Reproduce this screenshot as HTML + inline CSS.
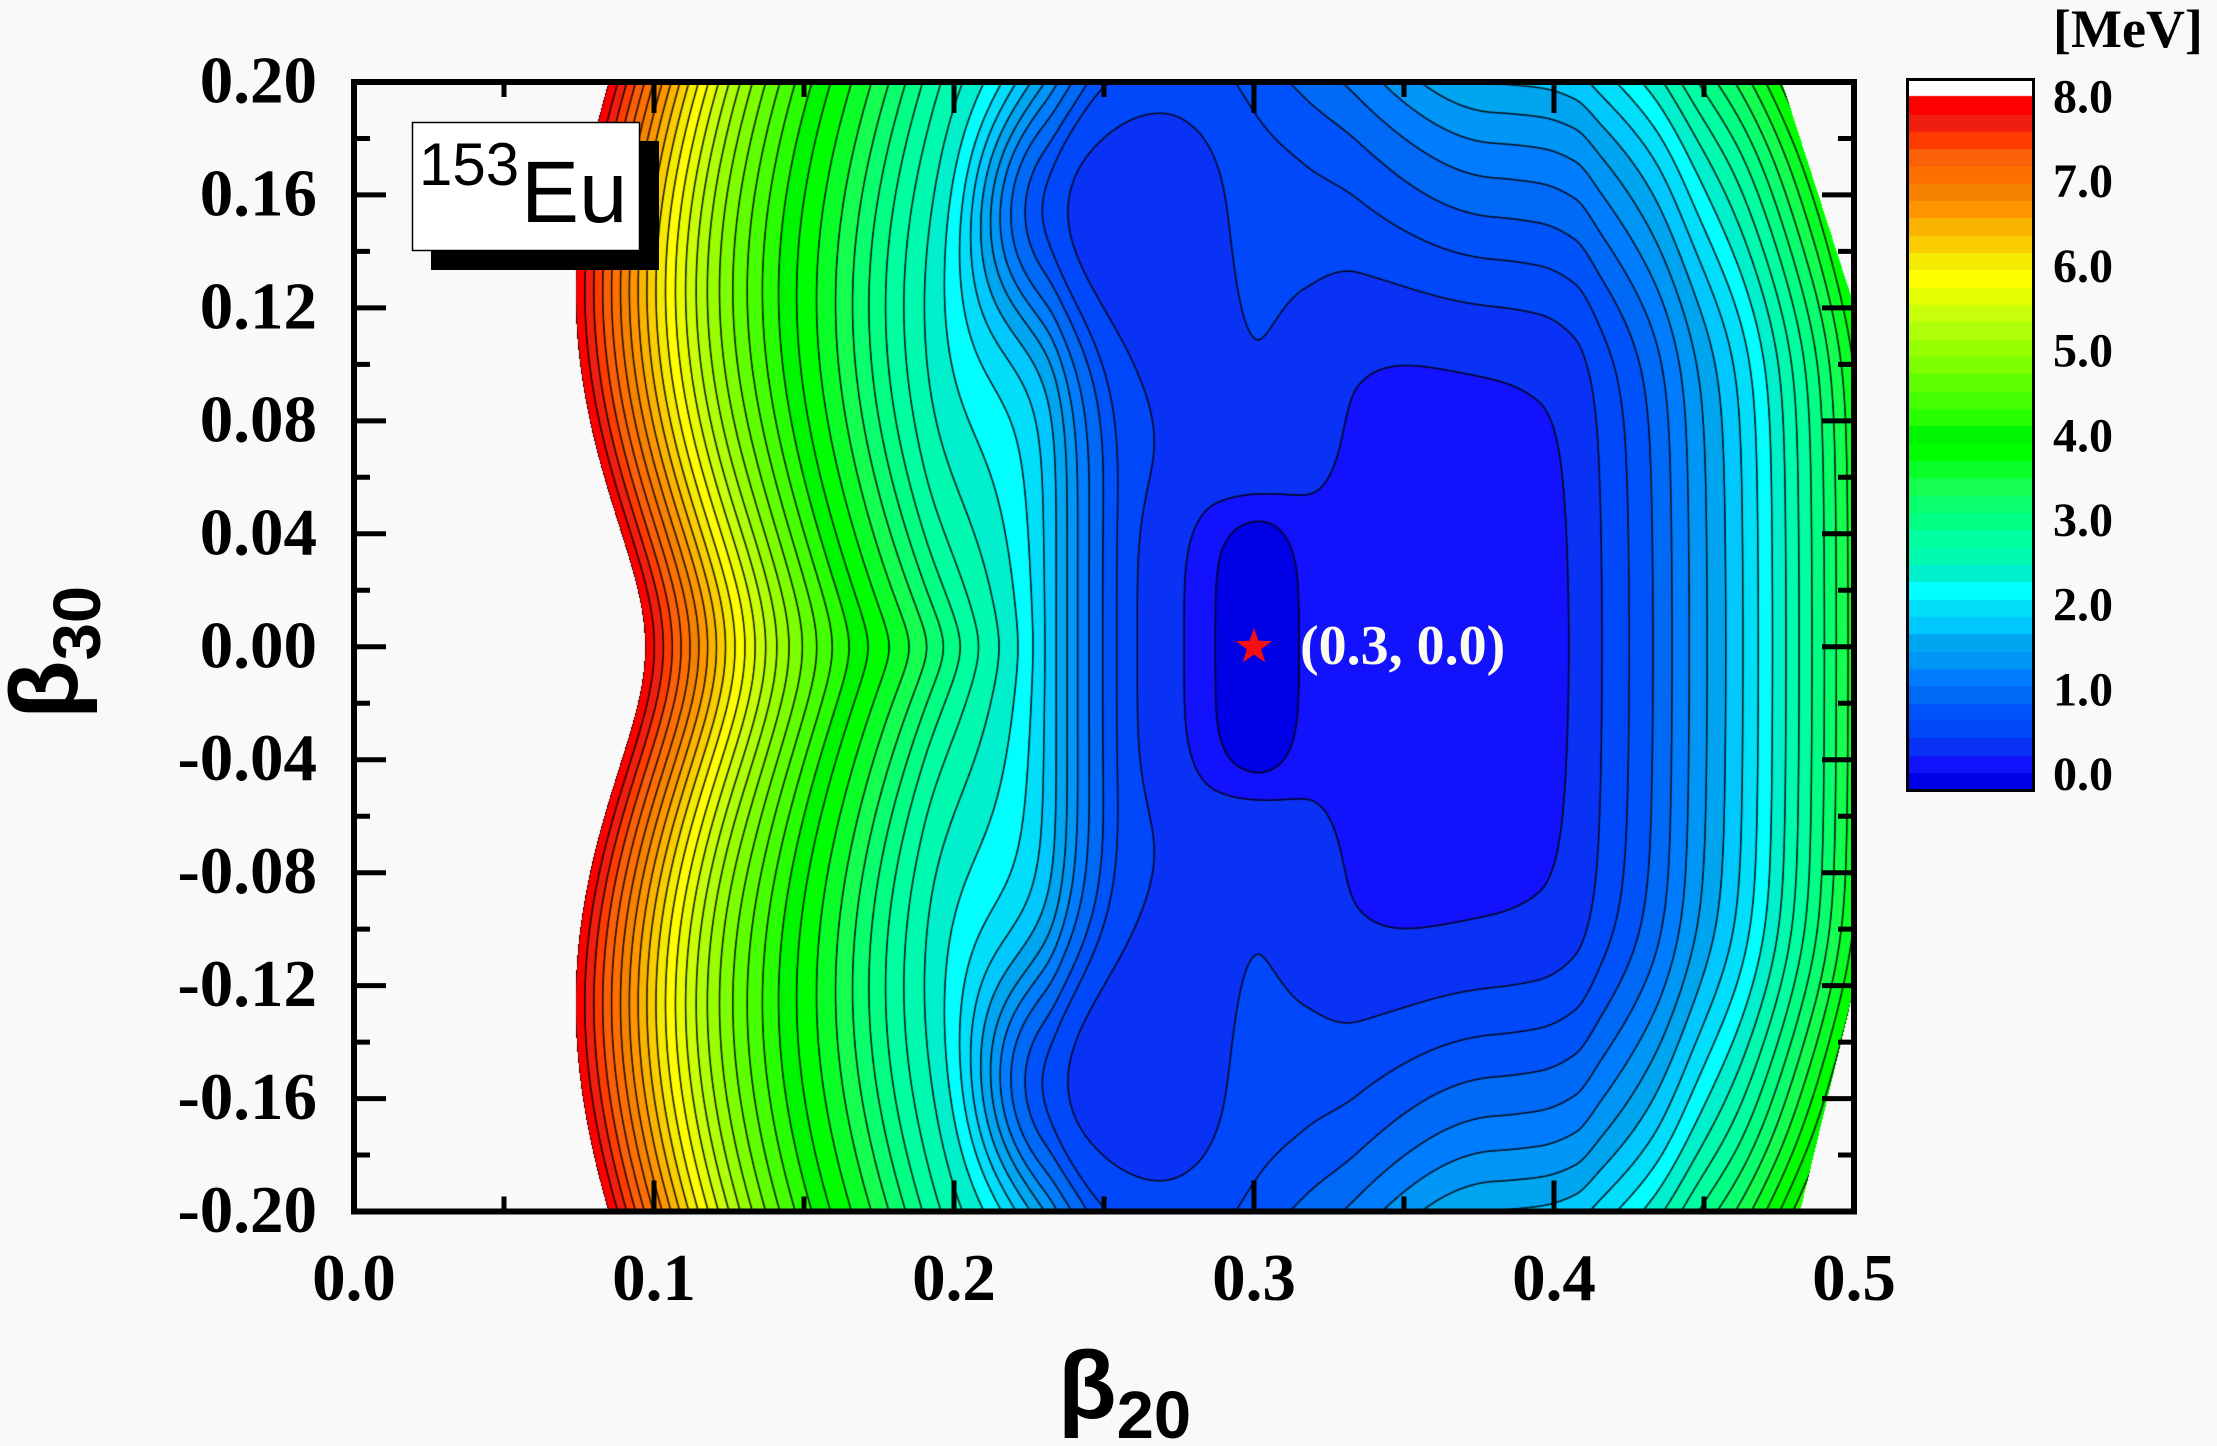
<!DOCTYPE html>
<html>
<head>
<meta charset="utf-8">
<style>
html,body{margin:0;padding:0;background:#f9f9f9;}
#wrap{position:relative;width:2217px;height:1446px;overflow:hidden;background:#f9f9f9;}
canvas{position:absolute;display:block;}
svg{position:absolute;left:0;top:0;}
</style>
</head>
<body>
<div id="wrap">
<canvas id="c" width="1500" height="1130" style="left:354px;top:82px;"></canvas>
<canvas id="cb" width="127" height="713" style="left:1907px;top:78px;"></canvas>
<svg width="2217" height="1446" viewBox="0 0 2217 1446">
  <rect x="354" y="82" width="1500" height="1129.5" fill="none" stroke="#000" stroke-width="6"/>
  <path fill="none" stroke="#000" stroke-width="5" d="
  M354 138.5h16 M354 194.9h32 M354 251.4h16 M354 307.9h32 M354 364.4h16 M354 420.9h32 M354 477.3h16 M354 533.8h32 M354 590.3h16 M354 646.75h32 M354 703.2h16 M354 759.7h32 M354 816.2h16 M354 872.7h32 M354 929.1h16 M354 985.6h32 M354 1042.1h16 M354 1098.6h32 M354 1155h16
  M1854 138.5h-16 M1854 194.9h-32 M1854 251.4h-16 M1854 307.9h-32 M1854 364.4h-16 M1854 420.9h-32 M1854 477.3h-16 M1854 533.8h-32 M1854 590.3h-16 M1854 646.75h-32 M1854 703.2h-16 M1854 759.7h-32 M1854 816.2h-16 M1854 872.7h-32 M1854 929.1h-16 M1854 985.6h-32 M1854 1042.1h-16 M1854 1098.6h-32 M1854 1155h-16
  M504 1211.5v-15 M654 1211.5v-31 M804 1211.5v-15 M954 1211.5v-31 M1104 1211.5v-15 M1254 1211.5v-31 M1404 1211.5v-15 M1554 1211.5v-31 M1704 1211.5v-15
  M504 82v15 M654 82v31 M804 82v15 M954 82v31 M1104 82v15 M1254 82v31 M1404 82v15 M1554 82v31 M1704 82v15"/>
  <g font-family="Liberation Serif, 'Times New Roman', serif" font-weight="bold" font-size="67" fill="#000" text-anchor="end">
    <text x="317" y="102.5">0.20</text>
    <text x="317" y="215.4">0.16</text>
    <text x="317" y="328.4">0.12</text>
    <text x="317" y="441.4">0.08</text>
    <text x="317" y="554.3">0.04</text>
    <text x="317" y="667.3">0.00</text>
    <text x="317" y="780.2">-0.04</text>
    <text x="317" y="893.2">-0.08</text>
    <text x="317" y="1006.1">-0.12</text>
    <text x="317" y="1119.1">-0.16</text>
    <text x="317" y="1232">-0.20</text>
  </g>
  <g font-family="Liberation Serif, 'Times New Roman', serif" font-weight="bold" font-size="67" fill="#000" text-anchor="middle">
    <text x="354" y="1300">0.0</text>
    <text x="654" y="1300">0.1</text>
    <text x="954" y="1300">0.2</text>
    <text x="1254" y="1300">0.3</text>
    <text x="1554" y="1300">0.4</text>
    <text x="1854" y="1300">0.5</text>
  </g>
  <text x="1058" y="1418" font-family="Liberation Sans, Arial, sans-serif" font-weight="bold" font-size="96" fill="#000">β<tspan font-size="67" dy="20">20</tspan></text>
  <text transform="translate(77,719) rotate(-90)" font-family="Liberation Sans, Arial, sans-serif" font-weight="bold" font-size="96" fill="#000">β<tspan font-size="67" dy="23">30</tspan></text>
  <rect x="431" y="141" width="228" height="129" fill="#000"/>
  <rect x="412.5" y="122.5" width="227" height="128" fill="#fff" stroke="#000" stroke-width="1.5"/>
  <text x="419" y="185" font-family="Liberation Sans, Arial, sans-serif" font-size="60" fill="#000">153</text>
  <text x="521" y="222" font-family="Liberation Sans, Arial, sans-serif" font-size="87" fill="#000">Eu</text>
  <polygon fill="#f41010" points="1254,628 1258.5,640.8 1272.1,641.1 1261.3,649.3 1265.2,662.4 1254,654.6 1242.8,662.4 1246.7,649.3 1235.9,641.1 1249.5,640.8"/>
  <text x="1300" y="664" font-family="Liberation Serif, 'Times New Roman', serif" font-weight="bold" font-size="56" fill="#fbfbf0">(0.3, 0.0)</text>
  <rect x="1907.5" y="79.5" width="126" height="711" fill="none" stroke="#000" stroke-width="3"/>
  <g font-family="Liberation Serif, 'Times New Roman', serif" font-weight="bold" font-size="48" fill="#000">
    <text x="2053" y="47" font-size="54">[MeV]</text>
    <text x="2053" y="112.5">8.0</text>
    <text x="2053" y="197.2">7.0</text>
    <text x="2053" y="281.9">6.0</text>
    <text x="2053" y="366.6">5.0</text>
    <text x="2053" y="451.3">4.0</text>
    <text x="2053" y="536">3.0</text>
    <text x="2053" y="620.7">2.0</text>
    <text x="2053" y="705.4">1.0</text>
    <text x="2053" y="790">0.0</text>
  </g>
</svg>
</div>
<script>
(function(){
var PAL=[
[0,0,230],[18,18,252],[10,50,245],[0,72,250],[0,82,250],[0,105,245],[0,125,255],[0,150,245],
[0,165,240],[0,200,255],[0,222,250],[0,255,255],[0,240,205],[0,250,175],[0,255,160],[0,255,130],
[10,255,110],[20,255,80],[10,255,40],[0,255,0],[0,245,0],[40,255,0],[70,255,0],[95,255,0],
[125,255,0],[150,255,0],[175,255,10],[200,255,10],[230,255,0],[255,255,0],[245,235,0],[250,205,0],
[250,180,0],[255,150,0],[245,130,0],[255,110,0],[250,95,10],[255,60,0],[240,30,15],[255,0,0]];
var P=[[0,14],[0.05,10.6],[0.075,9.3],[0.097,8.0],[0.112,7.0],[0.127,6.0],[0.145,5.0],[0.165,4.2],
[0.185,3.6],[0.205,2.9],[0.224,2.3],[0.235,1.75],[0.245,1.2],[0.252,0.9],[0.258,0.66],[0.265,0.55],
[0.275,0.46],[0.287,0.39],[0.301,0.38],[0.317,0.33],[0.335,0.28],[0.37,0.3],[0.395,0.34],[0.407,0.42],
[0.416,0.6],[0.433,1.0],[0.448,1.5],[0.463,2.0],[0.486,3.0],[0.5,3.7],[0.53,5.2]];
var n=P.length,X=[],Y=[],H=[],D=[],M=[],i,j,k;
for(i=0;i<n;i++){X[i]=P[i][0];Y[i]=P[i][1];}
for(i=0;i<n-1;i++){H[i]=X[i+1]-X[i];D[i]=(Y[i+1]-Y[i])/H[i];}
M[0]=D[0];M[n-1]=D[n-2];
for(i=1;i<n-1;i++){if(D[i-1]*D[i]<=0)M[i]=0;else{var w1=2*H[i]+H[i-1],w2=H[i]+2*H[i-1];M[i]=(w1+w2)/(w1/D[i-1]+w2/D[i]);}}
function Wraw(u){
 if(u<=X[0])return Y[0]+M[0]*(u-X[0]);
 if(u>=X[n-1])return Y[n-1]+M[n-1]*(u-X[n-1]);
 var lo=0,hi=n-1;while(hi-lo>1){var mid=(lo+hi)>>1;if(X[mid]<=u)lo=mid;else hi=mid;}
 var h=H[lo],t=(u-X[lo])/h,t2=t*t,t3=t2*t;
 return (2*t3-3*t2+1)*Y[lo]+(t3-2*t2+t)*h*M[lo]+(-2*t3+3*t2)*Y[lo+1]+(t3-t2)*h*M[lo+1];
}
var U0=-0.05,U1=0.6,NL=65000,LUT=new Float64Array(NL+1),dU=(U1-U0)/NL;
for(i=0;i<=NL;i++)LUT[i]=Wraw(U0+i*dU);
function W(u){var f=(u-U0)/dU;if(f<=0)return LUT[0];if(f>=NL)return LUT[NL];var q=f|0,t=f-q;return LUT[q]+(LUT[q+1]-LUT[q])*t;}
function sm(a,b,x){var t=(x-a)/(b-a);t=t<0?0:(t>1?1:t);return t*t*(3-2*t);}
function E(u,v){
 var av=v<0?-v:v;
 var s=0;
 var S1=0.025*(1-sm(0.19,0.235,u));
 if(S1>0){var eps=0.05-0.038*sm(0.13,0.18,u);s+=S1*Math.sin(Math.PI*av/0.24)*av/Math.sqrt(av*av+eps*eps);}
 var S2=0.024*sm(0.19,0.23,u)*(1-sm(0.26,0.30,u));
 if(S2>0){var t2=(av-0.155)/0.045;s+=S2*Math.exp(-t2*t2);}
 var e=W(u+s);
 var du=(u-0.301)/(u<0.301?0.017:0.014);
 var r=av/0.052,r2=r*r;
 e-=0.37*Math.exp(-du*du)*Math.exp(-r2*r2*r2);
 var c=(u-0.3)/0.035,C=Math.exp(-c*c);
 var q=av/0.055,q2=q*q;
 e+=0.2*C*(1-Math.exp(-q2*q2));
 var wR=sm(0.28,0.38,u);
 if(wR>0){var z=(av-0.105)/0.012;var spv=z>30?(av-0.105):0.012*Math.log(1+Math.exp(z));e+=wR*(12.5*spv+4*av*av);}
 var wT=sm(0.2,0.25,u);
 if(wT>0){var zt=(av-0.175)/0.008;e+=wT*6*(zt>30?(av-0.175):0.008*Math.log(1+Math.exp(zt)));}
 return e;
}
function outside(u,v){
 if(v>0&&v>0.121+(0.5-u)*(0.079/0.024))return true;
 if(v<0&&-v>0.121+(0.5-u)*(0.079/0.018))return true;
 return false;
}
var cv=document.getElementById('c'),ctx=cv.getContext('2d');
var Wd=1500,Ht=1130,img=ctx.createImageData(Wd,Ht),dat=img.data;
var GW=Wd+2,GH=Ht+2,G=new Float32Array(GW*GH);
for(j=0;j<GH;j++){var vv=0.2-(j-0.5)/2825;for(i=0;i<GW;i++){G[j*GW+i]=E((i-0.5)/3000,vv);}}
var BG=249;
for(j=0;j<Ht;j++){
 var v=0.2-(j+0.5)/2825;
 for(i=0;i<Wd;i++){
  var u=(i+0.5)/3000,p=(j*Wd+i)*4,idx=(j+1)*GW+(i+1),e=G[idx];
  if(e>8||outside(u,v)){dat[p]=BG;dat[p+1]=BG;dat[p+2]=BG;dat[p+3]=255;continue;}
  k=Math.floor(e/0.2);if(k<0)k=0;if(k>39)k=39;var cc=PAL[k];
  var gx=(G[idx+1]-G[idx-1])*0.5,gy=(G[idx+GW]-G[idx-GW])*0.5,g=Math.sqrt(gx*gx+gy*gy)+1e-9;
  var lev=Math.round(e/0.2)*0.2,a=0;
  if(lev>0.1&&lev<8.1){var d=Math.abs(e-lev)/g;a=(1.25-d)/0.9;a=a<0?0:(a>1?1:a);a*=0.85;}
  dat[p]=cc[0]*(1-a);dat[p+1]=cc[1]*(1-a);dat[p+2]=cc[2]*(1-a);dat[p+3]=255;
 }
}
ctx.putImageData(img,0,0);
var cb=document.getElementById('cb'),cx=cb.getContext('2d');
cx.fillStyle='#ffffff';cx.fillRect(0,0,127,20);
var bh=693/40;
for(k=0;k<40;k++){var c2=PAL[k];cx.fillStyle='rgb('+c2[0]+','+c2[1]+','+c2[2]+')';
 var y0=18+(39-k)*bh;cx.fillRect(0,Math.floor(y0),127,Math.ceil(bh)+1);}
})();
</script>
</body>
</html>
